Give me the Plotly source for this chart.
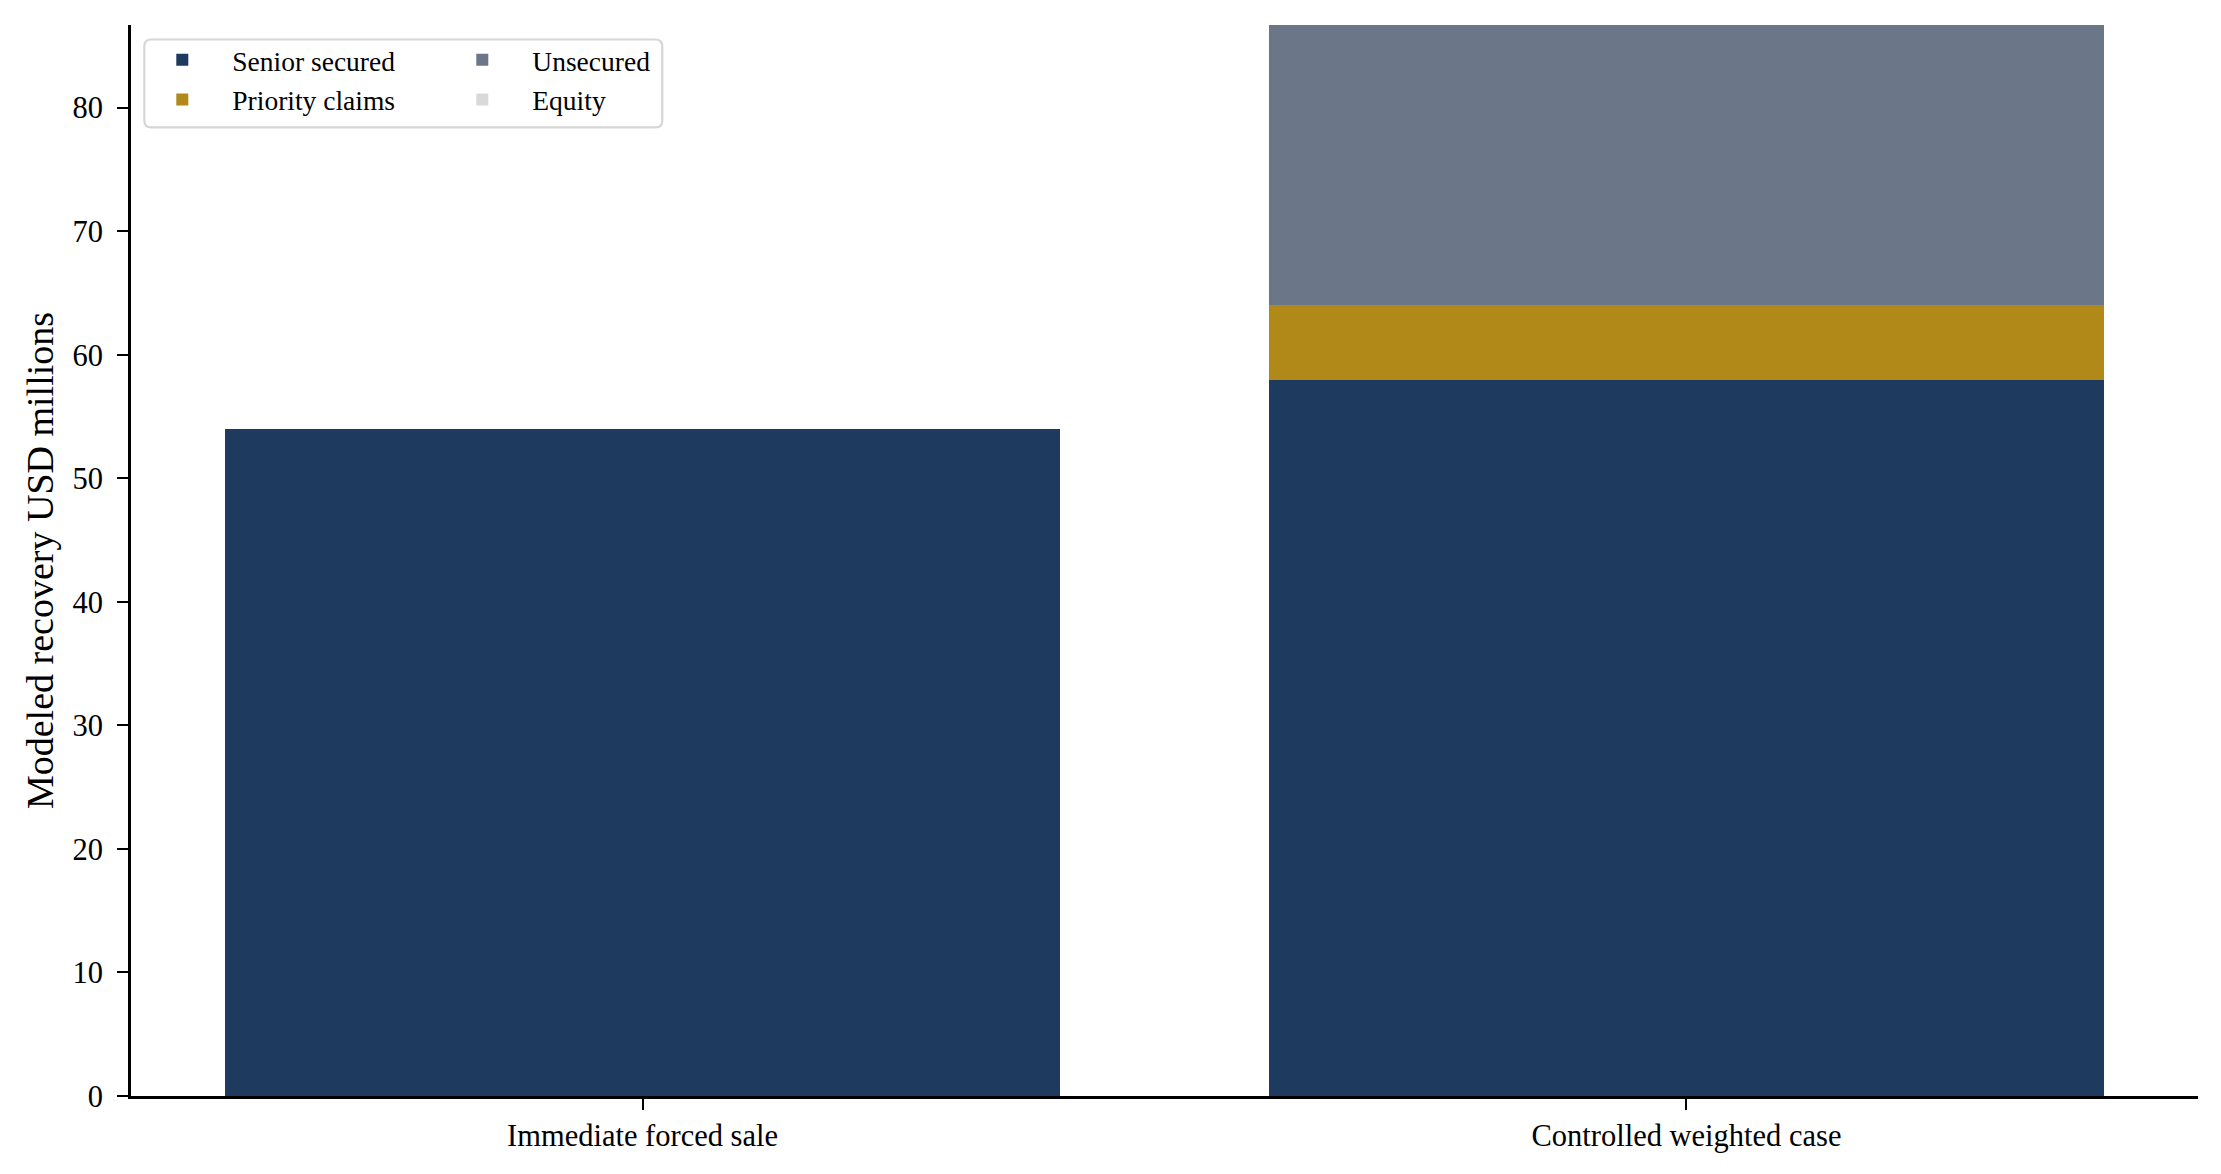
import plotly.graph_objects as go

categories = ["Immediate forced sale", "Controlled weighted case"]
senior_secured = [54.0, 58.0]
priority_claims = [0.0, 6.0]
unsecured = [0.0, 22.7]
equity = [0.0, 0.0]
y_ticks = [0, 10, 20, 30, 40, 50, 60, 70, 80]

# page offset of the figure (default body margin)
OFF = 8
W, H = 2221 - OFF, 1174 - OFF
PL, PR, PT, PB = 130.7, 2197.7, 24.5, 1096.5  # plot area in page px
L, T = PL - OFF, PT - OFF
R, B = (W + OFF) - PR, (H + OFF) - PB
PW, PH = PR - PL, PB - PT
FONT = "Liberation Serif, Times New Roman, serif"


def px_x(p):
    return (p - PL) / PW


def px_y(p):
    return (PB - p) / PH


series = [
    ("Senior secured", senior_secured, "#1f3a5f", "legend"),
    ("Priority claims", priority_claims, "#b08918", "legend"),
    ("Unsecured", unsecured, "#6b7689", "legend2"),
    ("Equity", equity, "#d9d9d9", "legend2"),
]

fig = go.Figure()
for name, vals, color, lg in series:
    fig.add_trace(go.Bar(
        x=[0, 1], y=vals, name=name, marker=dict(color=color, line=dict(width=0)),
        width=0.8, legend=lg, legendgroup=name,
    ))

legend_common = dict(
    yanchor="top", xanchor="left", orientation="v",
    bgcolor="rgba(0,0,0,0)", borderwidth=0,
    font=dict(family=FONT, size=27.5, color="black"),
    itemwidth=90, tracegroupgap=1, traceorder="grouped",
)

# rounded legend frame
x0, x1 = px_x(144), px_x(662)
y0, y1 = px_y(127), px_y(39)
rx, ry = 7 / PW, 7 / PH
frame = (f"M {x0+rx},{y1} L {x1-rx},{y1} Q {x1},{y1} {x1},{y1-ry} "
         f"L {x1},{y0+ry} Q {x1},{y0} {x1-rx},{y0} L {x0+rx},{y0} "
         f"Q {x0},{y0} {x0},{y0+ry} L {x0},{y1-ry} Q {x0},{y1} {x0+rx},{y1} Z")

fig.update_layout(
    width=W, height=H,
    margin=dict(l=L, r=R, t=T, b=B, autoexpand=False),
    barmode="stack",
    plot_bgcolor="white", paper_bgcolor="white",
    font=dict(family=FONT, color="black", size=30),
    showlegend=True,
    legend=dict(x=px_x(132), y=px_y(35), **legend_common),
    legend2=dict(x=px_x(432), y=px_y(35), **legend_common),
    shapes=[dict(type="path", xref="paper", yref="paper", path=frame,
                 line=dict(color="#d6d6d6", width=2.2),
                 fillcolor="rgba(255,255,255,0.8)", layer="below")],
    xaxis=dict(
        range=[-0.49, 1.49], tickmode="array", tickvals=[0, 1], ticktext=categories,
        showline=True, linecolor="black", linewidth=2.7,
        ticks="outside", ticklen=11, tickwidth=2.2, tickcolor="black",
        showgrid=False, zeroline=False, tickfont=dict(size=30.5),
        ticklabelstandoff=0,
    ),
    yaxis=dict(
        range=[0, 86.7], tickmode="array", tickvals=y_ticks,
        showline=True, linecolor="black", linewidth=2.7,
        ticks="outside", ticklen=11, tickwidth=2.2, tickcolor="black",
        showgrid=False, zeroline=False, tickfont=dict(size=30.5),
        title=dict(text="Modeled recovery USD millions", font=dict(size=38), standoff=8),
        ticklabelstandoff=8,
    ),
)

fig.write_html("out.html")
